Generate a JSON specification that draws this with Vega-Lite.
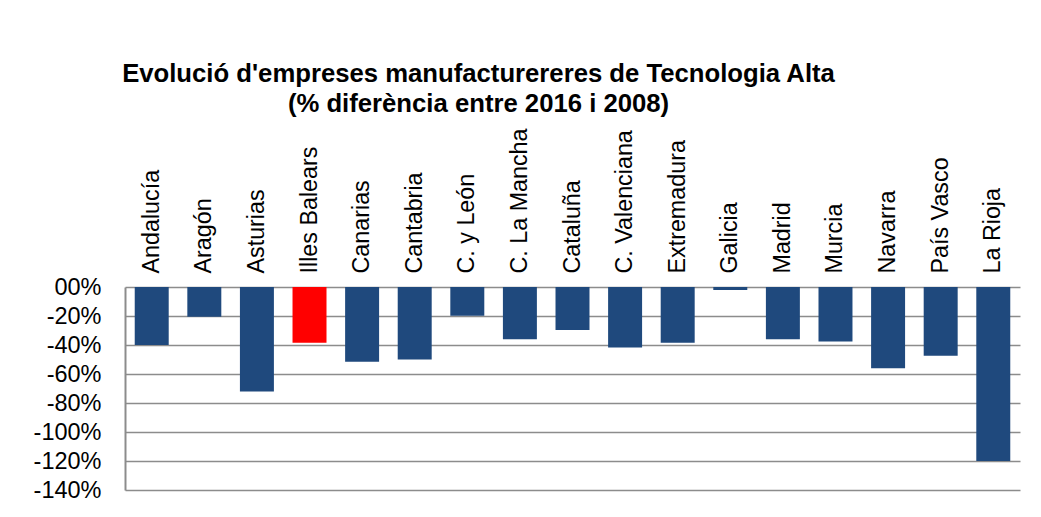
{
  "$schema": "https://vega.github.io/schema/vega-lite/v6.json",
  "autosize": "none",
  "width": 895,
  "height": 203,
  "padding": {"left": 125, "top": 287, "right": 21, "bottom": 27},
  "background": "white",
  "title": {
    "text": ["Evolució d'empreses manufacturereres de Tecnologia Alta", "(% diferència entre 2016 i 2008)"],
    "font": "Liberation Sans",
    "fontSize": 25.7,
    "fontWeight": "bold",
    "color": "#000000",
    "anchor": "middle",
    "align": "center",
    "dx": -94,
    "lineHeight": 30,
    "offset": 10
  },
  "data": {
    "values": [
      {"region": "Andalucía", "value": -40, "highlight": "no"},
      {"region": "Aragón", "value": -20.5, "highlight": "no"},
      {"region": "Asturias", "value": -72, "highlight": "no"},
      {"region": "Illes Balears", "value": -38.5, "highlight": "yes"},
      {"region": "Canarias", "value": -51.5, "highlight": "no"},
      {"region": "Cantabria", "value": -50, "highlight": "no"},
      {"region": "C. y León", "value": -19.8, "highlight": "no"},
      {"region": "C. La Mancha", "value": -36, "highlight": "no"},
      {"region": "Cataluña", "value": -29.7, "highlight": "no"},
      {"region": "C. Valenciana", "value": -41.8, "highlight": "no"},
      {"region": "Extremadura", "value": -38.5, "highlight": "no"},
      {"region": "Galicia", "value": -2, "highlight": "no"},
      {"region": "Madrid", "value": -36, "highlight": "no"},
      {"region": "Murcia", "value": -37.5, "highlight": "no"},
      {"region": "Navarra", "value": -56, "highlight": "no"},
      {"region": "País Vasco", "value": -47.4, "highlight": "no"},
      {"region": "La Rioja", "value": -120, "highlight": "no"}
    ]
  },
  "mark": {"type": "bar"},
  "encoding": {
    "x": {
      "field": "region",
      "type": "nominal",
      "sort": null,
      "scale": {"paddingInner": 0.354, "paddingOuter": 0.185},
      "axis": {
        "orient": "top",
        "title": null,
        "ticks": false,
        "domain": false,
        "labelAngle": -90,
        "labelAlign": "left",
        "labelBaseline": "middle",
        "labelPadding": 14,
        "labelFont": "Liberation Sans",
        "labelFontSize": 23.3,
        "labelColor": "#000000",
        "labelLimit": 300
      }
    },
    "y": {
      "field": "value",
      "type": "quantitative",
      "scale": {"domain": [-140, 0], "nice": false, "zero": true},
      "axis": {
        "title": null,
        "values": [0, -20, -40, -60, -80, -100, -120, -140],
        "labelExpr": "datum.value === 0 ? '00%' : datum.value + '%'",
        "ticks": false,
        "labelPadding": 24,
        "labelFont": "Liberation Sans",
        "labelFontSize": 23.5,
        "labelColor": "#000000",
        "grid": true,
        "gridColor": "#8c8c8c",
        "gridWidth": 1.6,
        "gridOpacity": 1,
        "domainColor": "#8c8c8c",
        "domainWidth": 2
      }
    },
    "color": {
      "field": "highlight",
      "type": "nominal",
      "scale": {"domain": ["no", "yes"], "range": ["#1f497d", "#ff0000"]},
      "legend": null
    }
  },
  "config": {
    "view": {"stroke": null}
  }
}
